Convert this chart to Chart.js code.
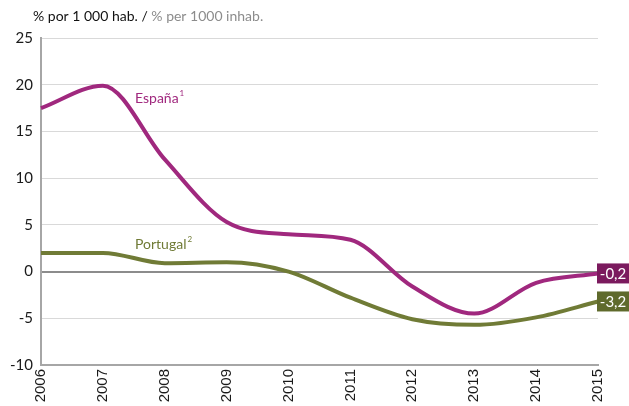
<!DOCTYPE html>
<html>
<head>
<meta charset="utf-8">
<script src="https://cdn.jsdelivr.net/npm/chart.js@4"></script>
<style>
  html, body { margin: 0; padding: 0; background: #fff; }
  #wrap { position: relative; width: 629px; height: 406px; }
</style>
</head>
<body>
<div id="wrap"><canvas id="chart" width="629" height="406"></canvas></div>
<script>
// Tasa de variación - España / Portugal
const years = ['2006', '2007', '2008', '2009', '2010', '2011', '2012', '2013', '2014', '2015'];
const espana = [17.5, 19.9, 12.0, 5.3, 4.0, 3.4, -1.6, -4.5, -1.2, -0.2];
const portugal = [2.0, 2.0, 0.9, 1.0, 0.0, -2.8, -5.1, -5.7, -4.9, -3.2];
const yTicks = [-10, -5, 0, 5, 10, 15, 20, 25];

const colEspana = '#a0287e';
const colEspanaBox = '#7b1a5e';
const colPortugal = '#707b36';
const colPortugalBox = '#5f6a2c';
const fontFam = "Lato, 'Open Sans', sans-serif";

// ── labels, title and end-value boxes ──────────────────────────────────────
const annotate = {
    id: 'annotate',
    afterDatasetsDraw(chart) {
        const ctx = chart.ctx;
        const xs = chart.scales.x, ys = chart.scales.y;
        ctx.save();

        // header
        ctx.textBaseline = 'middle';
        ctx.textAlign = 'left';
        ctx.font = '14px ' + fontFam;
        ctx.fillStyle = '#111';
        const t1 = '% por 1 000 hab. / ';
        ctx.fillText(t1, 33, 16);
        ctx.fillStyle = '#8c8c8c';
        ctx.fillText('% per 1000 inhab.', 33 + ctx.measureText(t1).width, 16);

        // series names
        function seriesName(text, sup, x, y, color) {
            ctx.fillStyle = color;
            ctx.font = '14px ' + fontFam;
            ctx.fillText(text, x, y);
            const w = ctx.measureText(text).width;
            ctx.font = '8px ' + fontFam;
            ctx.fillText(sup, x + w + 1, y - 5);
        }
        seriesName('España', '1', 135, 98, colEspana);
        seriesName('Portugal', '2', 135, 244, colPortugal);

        // end boxes
        function endBox(values, text, bg) {
            const i = values.length - 1;
            const x = xs.getPixelForValue(i);
            const y = ys.getPixelForValue(values[i]);
            ctx.fillStyle = bg;
            ctx.fillRect(x - 1, y - 10, 32, 20);
            ctx.fillStyle = '#fff';
            ctx.font = '15px ' + fontFam;
            ctx.textAlign = 'center';
            ctx.fillText(text, x + 15, y + 1);
            ctx.textAlign = 'left';
        }
        endBox(espana, '-0,2', colEspanaBox);
        endBox(portugal, '-3,2', colPortugalBox);

        ctx.restore();
    }
};

new Chart(document.getElementById('chart'), {
    type: 'line',
    data: {
        labels: years,
        datasets: [
            {
                label: 'España',
                data: espana,
                borderColor: colEspana,
                borderWidth: 4,
                pointRadius: 0,
                cubicInterpolationMode: 'monotone',
                fill: false
            },
            {
                label: 'Portugal',
                data: portugal,
                borderColor: colPortugal,
                borderWidth: 4,
                pointRadius: 0,
                cubicInterpolationMode: 'monotone',
                fill: false
            }
        ]
    },
    options: {
        responsive: false,
        animation: false,
        layout: { padding: { top: 38, right: 31, bottom: 0, left: 0 } },
        plugins: { legend: { display: false }, tooltip: { enabled: false } },
        scales: {
            x: {
                offset: false,
                grid: { display: false, drawTicks: false },
                border: { color: '#a6a6a6', width: 2 },
                ticks: {
                    color: '#1a1a1a',
                    font: { family: "'Liberation Sans', Arial, sans-serif", size: 15 },
                    minRotation: 90,
                    maxRotation: 90,
                    padding: 4
                },
                afterFit(scale) { scale.height = 41; }
            },
            y: {
                min: -10,
                max: 25,
                afterBuildTicks(scale) { scale.ticks = yTicks.map(v => ({ value: v })); },
                grid: {
                    drawTicks: false,
                    color: ctx => ctx.tick && ctx.tick.value === 0 ? '#8c8c8c' : '#d9d9d9',
                    lineWidth: ctx => ctx.tick && ctx.tick.value === 0 ? 2 : 1
                },
                border: { color: '#a6a6a6', width: 2 },
                ticks: {
                    color: '#1a1a1a',
                    font: { family: fontFam, size: 15 },
                    padding: 8
                },
                afterFit(scale) { scale.width = 41; }
            }
        }
    },
    plugins: [annotate]
});
</script>
</body>
</html>
